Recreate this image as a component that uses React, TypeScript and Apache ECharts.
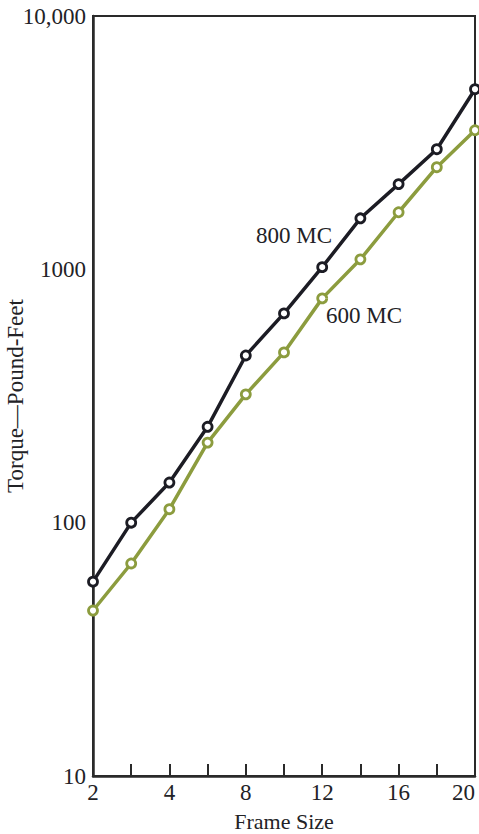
import React, { useEffect, useRef } from "react";
import * as echarts from "echarts";

const frameSizes = ["2", "3", "4", "6", "8", "10", "12", "14", "16", "18", "20"];
const shownLabels = ["2", "4", "8", "12", "16", "20"];
const torque800 = [58.5, 100, 144, 239, 457, 670, 1020, 1590, 2170, 2980, 5140];
const torque600 = [45, 69, 113, 207, 321, 470, 768, 1095, 1680, 2530, 3540];
const seriesNames = ["800 MC", "600 MC"];

const FONT = "'Liberation Serif', 'Times New Roman', serif";
const INK = "#222226";
const BLACK_LINE = "#1c1c24";
const GREEN_LINE = "#8c9c3e";

export default function App() {
  const ref = useRef<HTMLDivElement>(null);
  useEffect(() => {
    if (!ref.current) return;
    const chart = echarts.init(ref.current, undefined, { renderer: "svg" });
    const lineSeries = (name: string, data: number[], color: string) => ({
      name,
      type: "line",
      data,
      symbol: "circle",
      symbolSize: 9,
      lineStyle: { color, width: 3.5 },
      itemStyle: { color: "#ffffff", borderColor: color, borderWidth: 2.8 },
      z: 3,
    });
    chart.setOption({
      animation: false,
      backgroundColor: "#ffffff",
      grid: {
        left: 93,
        right: 4,
        top: 16,
        bottom: 58,
        containLabel: false,
        outerBoundsMode: "none",
        show: true,
        borderColor: "#2a2a2a",
        borderWidth: 2,
      },
      xAxis: {
        type: "category",
        data: frameSizes,
        boundaryGap: false,
        name: "Frame Size",
        nameLocation: "middle",
        nameGap: 35,
        nameMoveOverlap: false,
        nameTextStyle: { fontFamily: FONT, fontSize: 22, lineHeight: 20, color: INK },
        axisLine: { lineStyle: { color: "#2a2a2a", width: 2.5 } },
        axisTick: { inside: true, length: 12, interval: 0, lineStyle: { color: "#2a2a2a", width: 2 } },
        axisLabel: {
          interval: 0,
          alignMaxLabel: "right",
          formatter: (v: string) => (shownLabels.includes(v) ? v : ""),
          fontFamily: FONT,
          fontSize: 23,
          color: INK,
          margin: 5,
        },
        splitLine: { show: false },
      },
      yAxis: {
        type: "log",
        logBase: 10,
        min: 10,
        max: 10000,
        name: "Torque\u2014Pound-Feet",
        nameLocation: "middle",
        nameGap: 66,
        nameMoveOverlap: false,
        nameTextStyle: { fontFamily: FONT, fontSize: 23, color: INK },
        axisLine: { show: true, lineStyle: { color: "#2a2a2a", width: 2.5 } },
        axisTick: { inside: true, length: 14, lineStyle: { color: "#2a2a2a", width: 2 } },
        minorTick: { show: false },
        splitLine: { show: false },
        axisLabel: {
          fontFamily: FONT,
          fontSize: 23,
          color: INK,
          margin: 7,
          formatter: (v: number) => (v >= 10000 ? "10,000" : String(Math.round(v))),
        },
      },
      graphic: [
        {
          type: "text",
          left: 256,
          top: 224,
          style: { text: seriesNames[0], font: `23px ${FONT}`, fill: INK },
          z: 10,
        },
        {
          type: "text",
          left: 326,
          top: 304,
          style: { text: seriesNames[1], font: `23px ${FONT}`, fill: INK },
          z: 10,
        },
      ],
      series: [
        lineSeries(seriesNames[0], torque800, BLACK_LINE),
        lineSeries(seriesNames[1], torque600, GREEN_LINE),
      ],
    });
    return () => chart.dispose();
  }, []);
  return (
    <div
      ref={ref}
      style={{ position: "fixed", left: 0, top: 0, width: 479, height: 834, background: "#fff" }}
    />
  );
}
